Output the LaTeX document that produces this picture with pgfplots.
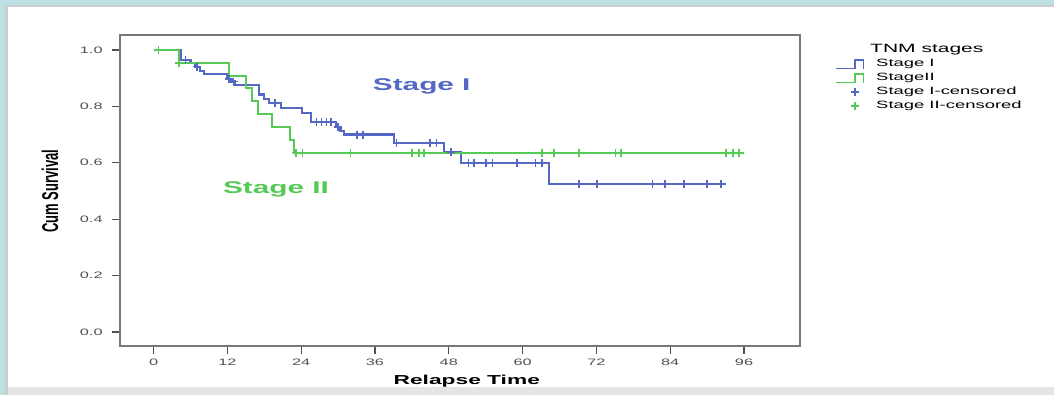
\documentclass[border=0pt]{standalone}
\usepackage{fontspec}
\setmainfont{Liberation Sans}
\usepackage{graphicx}
\usepackage{pgfplots}
\pgfplotsset{compat=1.18}
\definecolor{bgteal}{RGB}{188,224,228}
\definecolor{sblue}{RGB}{84,104,196}
\definecolor{sgreen}{RGB}{86,202,86}
\definecolor{tickgray}{RGB}{80,80,80}
\definecolor{framegray}{RGB}{120,120,120}
\newcommand{\sx}[1]{\scalebox{1.75}[1]{#1}}
\pgfplotsset{
  steplegend/.style={legend image code/.code={\draw[##1, line width=1pt] (0pt,-3.4pt) -- (14pt,-3.4pt) -- (14pt,3.2pt) -- (20.5pt,3.2pt) -- (20.5pt,-3.4pt);}},
  marklegend/.style={legend image code/.code={\draw[##1] plot coordinates {(14pt,0pt)};}},
}
\begin{document}
\begin{tikzpicture}[x=0.75pt,y=0.75pt]
\fill[bgteal] (0,0) rectangle (1054,395);
\fill[gray!40] (5,0) rectangle (1054,390);
\fill[gray!20] (8,0) rectangle (1054,8);
\fill[white] (8,8) rectangle (1054,388);
\path[use as bounding box] (0,0) rectangle (1054,395);
\begin{axis}[
  at={(90pt,36.75pt)}, anchor=south west,
  scale only axis, width=510pt, height=233.25pt,
  xmin=-5.46, xmax=105.1, ymin=-0.0496, ymax=1.053,
  xtick={0,12,24,36,48,60,72,84,96},
  ytick={0,0.2,0.4,0.6,0.8,1},
  /pgf/number format/assume math mode=true,
  xticklabel={\sx{\pgfmathprintnumber{\tick}}},
  yticklabel={\sx{\pgfmathprintnumber[fixed,fixed zerofill,precision=1]{\tick}}},
  tick label style={font=\fontsize{7}{8}\selectfont, text=tickgray},
  yticklabel style={xshift=-3.5pt},
  tick align=outside, tick pos=left, major tick length=6pt,
  tick style={draw=tickgray, line width=0.9pt},
  axis line style={draw=framegray, line width=0.9pt},
  every axis x label/.style={at={(axis description cs:0.51,-0.1125)}, anchor=center},
  every axis y label/.style={at={(axis description cs:-0.103,0.498)}, rotate=90, anchor=center},
  label style={font=\bfseries\fontsize{9.75}{11}\selectfont},
  xlabel={\sx{Relapse Time}},
  ylabel={\scalebox{1}[1.75]{Cum Survival}},
  legend style={at={(1.046,0.978)}, anchor=north west, draw=none, fill=none,
    font=\fontsize{7.9}{9}\selectfont, nodes={inner sep=0pt, text height=6pt, text depth=2pt},
    row sep=2.5pt, column sep=9pt},
  legend cell align=left,
]
\addlegendimage{empty legend}
\addlegendentry{\hspace*{-4.5pt}\fontsize{9}{10}\selectfont\sx{TNM stages}}

\addplot[const plot, sblue, line width=1.6pt, mark=none, steplegend]
  coordinates {(0,1) (4.4,0.965) (6.0,0.953) (6.8,0.941) (7.6,0.925) (8.2,0.914) (12.0,0.898) (12.5,0.888) (13.3,0.877) (17.1,0.842) (17.9,0.826) (18.7,0.811) (20.7,0.795) (24.2,0.775) (25.6,0.746) (29.6,0.728) (30.4,0.712) (31.0,0.700) (39.1,0.670) (47.2,0.637) (50.0,0.600) (64.3,0.524) (93.1,0.524)};
\addlegendentry{\sx{Stage I}}

\addplot[const plot, sgreen, line width=1.6pt, mark=none, steplegend]
  coordinates {(0,1) (4.1,0.955) (12.2,0.909) (15.0,0.864) (16.0,0.818) (17.0,0.773) (19.3,0.727) (22.2,0.682) (22.8,0.636) (96,0.636)};
\addlegendentry{\sx{StageII}}

\addplot[only marks, sblue, mark=+, mark size=3pt, mark options={line width=1.3pt}, marklegend]
  coordinates {(5.2,0.965) (7.1,0.941) (12.3,0.898) (13.0,0.888) (19.8,0.811) (26.5,0.746) (27.3,0.746) (28.1,0.746) (28.9,0.746) (30.0,0.728) (33.1,0.700) (34.0,0.700) (39.5,0.670) (45.0,0.670) (46.0,0.670) (48.3,0.637) (51.2,0.600) (52.1,0.600) (54.0,0.600) (55.1,0.600) (59.1,0.600) (62.1,0.600) (63.2,0.600) (69.2,0.524) (72.1,0.524) (81.1,0.524) (83.1,0.524) (86.2,0.524) (90.0,0.524) (92.2,0.524)};
\addlegendentry{\sx{Stage I-censored}}

\addplot[only marks, sgreen, mark=+, mark size=3pt, mark options={line width=1.3pt}, marklegend]
  coordinates {(0.8,1) (4.1,0.955) (23.2,0.636) (24.2,0.636) (32.0,0.636) (42.0,0.636) (43.1,0.636) (44.0,0.636) (63.2,0.636) (65.1,0.636) (69.2,0.636) (75.1,0.636) (76.0,0.636) (93.1,0.636) (94.2,0.636) (95.2,0.636)};
\addlegendentry{\sx{Stage II-censored}}

\node[text=sblue, font=\bfseries\fontsize{12.75}{14}\selectfont] at (axis cs:43.6,0.870) {\sx{Stage I}};
\node[text=sgreen, font=\bfseries\fontsize{12.75}{14}\selectfont] at (axis cs:19.9,0.505) {\sx{Stage II}};
\end{axis}
\end{tikzpicture}
\end{document}
